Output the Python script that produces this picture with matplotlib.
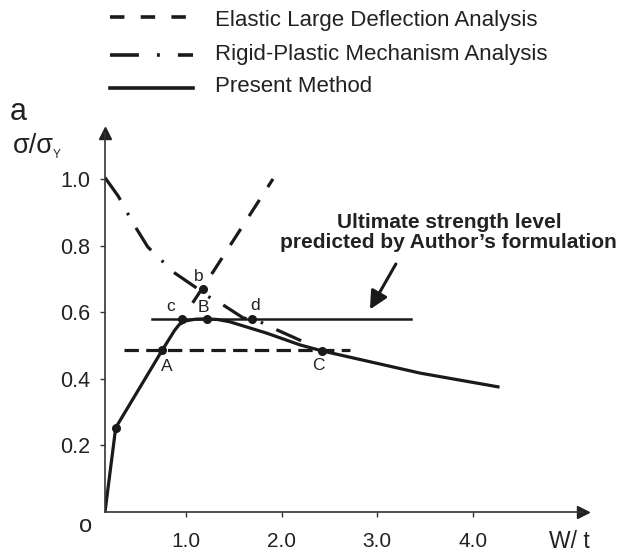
import matplotlib
matplotlib.use("Agg")
import matplotlib.pyplot as plt
from matplotlib.lines import Line2D

# Data (W/t, sigma/sigma_Y)
present_x = [0.153, 0.265, 0.752, 0.88, 0.93, 1.0, 1.1, 1.216, 1.33, 1.46, 1.845, 2.19, 2.42, 3.45, 4.28]
present_y = [0.0, 0.253, 0.486, 0.545, 0.563, 0.574, 0.579, 0.580, 0.578, 0.571, 0.537, 0.502, 0.484, 0.417, 0.375]

elastic_x = [1.07, 1.286, 1.91]
elastic_y = [0.628, 0.722, 1.0]

rigid_x = [0.153, 0.29, 0.445, 0.60, 0.74, 0.865, 1.094, 1.22, 1.387, 1.597, 1.775, 1.95, 2.16, 2.33]
rigid_y = [1.004, 0.949, 0.868, 0.796, 0.757, 0.721, 0.676, 0.649, 0.622, 0.583, 0.571, 0.547, 0.520, 0.498]

ultimate_level = 0.580
ultimate_span = [0.64, 3.35]
dashed_level = 0.485
dashed_span = [0.35, 2.72]

point_names = ["", "A", "c", "B", "d", "b", "C"]
point_x = [0.265, 0.752, 0.955, 1.216, 1.69, 1.175, 2.42]
point_y = [0.253, 0.486, 0.580, 0.580, 0.580, 0.669, 0.484]
label_x = [0.0, 0.798, 0.843, 1.178, 1.72, 1.137, 2.38]
label_y = [0.0, 0.436, 0.617, 0.613, 0.619, 0.707, 0.441]

x_ticks = [1.0, 2.0, 3.0, 4.0]
x_tick_labels = ["1.0", "2.0", "3.0", "4.0"]
y_ticks = [0.2, 0.4, 0.6, 0.8, 1.0]
y_tick_labels = ["0.2", "0.4", "0.6", "0.8", "1.0"]

legend_labels = ["Elastic Large Deflection Analysis",
                 "Rigid-Plastic Mechanism Analysis",
                 "Present Method"]

INK = "#1a1a1a"
TEXT = "#222222"
W, H = 640, 554

plt.rcParams["font.family"] = ["Liberation Sans", "DejaVu Sans"]

fig = plt.figure(figsize=(6.4, 5.54), dpi=100)
ax = fig.add_axes([105 / W, 1 - 512 / H, 478 / W, 379 / H])
ax.set_xlim(0.153, 5.153)
ax.set_ylim(0.0, 1.138)

# curves
ax.plot(present_x, present_y, color=INK, lw=2.3, solid_capstyle="butt")
ax.plot(elastic_x, elastic_y, color=INK, lw=2.3, dashes=(6.0, 4.8))
ax.plot(rigid_x, rigid_y, color=INK, lw=2.3, dashes=(8.5, 4.6, 0.8, 4.6))
ax.plot(ultimate_span, [ultimate_level, ultimate_level], color=INK, lw=1.8)
ax.plot(dashed_span, [dashed_level, dashed_level], color=INK, lw=2.3, dashes=(4.5, 2.3))

# marked points and their letters
ax.plot(point_x, point_y, "o", color=INK, ms=5.5, zorder=5)
for name, lx, ly in zip(point_names, label_x, label_y):
    if name:
        ax.text(lx, ly, name, fontsize=12.5, color=TEXT, ha="center", va="center")

# arrow pointing at the ultimate strength level
ax.annotate("", xy=(2.91, 0.601), xytext=(3.21, 0.752),
            arrowprops=dict(arrowstyle="-|>", color=INK, lw=2.2, mutation_scale=27))
ax.text(3.75, 0.84, "Ultimate strength level\npredicted by Author\u2019s formulation",
        fontsize=15, fontweight="bold", color=TEXT, ha="center", va="center",
        linespacing=1.05)

# axes with arrow heads
for side in ["top", "right"]:
    ax.spines[side].set_visible(False)
for side in ["left", "bottom"]:
    ax.spines[side].set_color("#333333")
    ax.spines[side].set_linewidth(1.2)
ax.plot(1, 0, ">", color="#222222", ms=8, transform=ax.transAxes, clip_on=False)
ax.plot(0, 1, "^", color="#222222", ms=8, transform=ax.transAxes, clip_on=False)

ax.set_xticks(x_ticks)
ax.set_xticklabels(x_tick_labels)
ax.set_yticks(y_ticks)
ax.set_yticklabels(y_tick_labels)
ax.tick_params(axis="x", direction="out", length=3.5, width=1, colors="#333333",
               pad=11, labelsize=15, labelcolor=TEXT)
ax.tick_params(axis="y", direction="out", length=3.5, width=1, colors="#333333",
               pad=7, labelsize=15.5, labelcolor=TEXT)

# loose labels around the axes
def px(x, y):
    return x / W, 1 - y / H

fig.text(*px(18, 112), "a", fontsize=22, color=TEXT, ha="center", va="center")
fig.text(*px(13, 146), "\u03c3/\u03c3", fontsize=19.5, color=TEXT, ha="left", va="center")
fig.text(*px(53, 155), "Y", fontsize=8.5, color=TEXT, ha="left", va="center")
fig.text(*px(86, 526), "o", fontsize=17, color=TEXT, ha="center", va="center")
fig.text(*px(569, 542), "W/ t", fontsize=16.5, color=TEXT, ha="center", va="center")

# legend drawn by hand at the top
legend_dashes = [(4.0, 4.5), (8.0, 5.0, 0.8, 5.0), None]
legend_line_y = [17, 55, 88]
legend_text_y = [26, 60, 92]
for lab, dsh, ly, ty in zip(legend_labels, legend_dashes, legend_line_y, legend_text_y):
    x0, y0 = px(110, ly)
    x1, _ = px(193, ly)
    line = Line2D([x0, x1], [y0, y0], color=INK, lw=2.6, transform=fig.transFigure)
    if dsh is not None:
        line.set_dashes(dsh)
    fig.add_artist(line)
    fig.text(*px(215, ty), lab, fontsize=16, color=TEXT, ha="left", va="baseline")

fig.savefig("out.png", dpi=100, facecolor="white")
